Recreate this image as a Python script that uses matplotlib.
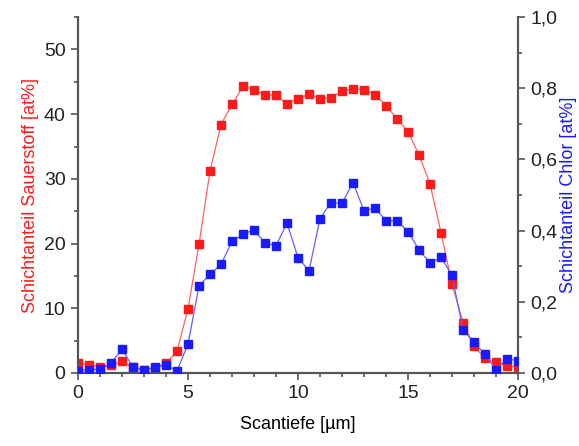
import numpy as np
import matplotlib
matplotlib.use("Agg")
import matplotlib.pyplot as plt
from matplotlib.ticker import MultipleLocator, FuncFormatter

plt.rcParams['font.family'] = ['Liberation Sans', 'DejaVu Sans']

# Scan depth in µm, 0.5 µm steps
depth = np.arange(0, 20.01, 0.5)

sauerstoff = [1.5, 1.3, 1.0, 1.2, 1.8, 0.9, 0.5, 0.8, 1.5, 3.4,
              9.9, 19.9, 31.2, 38.4, 41.5, 44.3, 43.8, 43.0, 42.9, 41.6,
              42.4, 43.1, 42.4, 42.5, 43.6, 43.9, 43.8, 43.0, 41.3, 39.3,
              37.3, 33.7, 29.2, 21.7, 13.7, 7.8, 4.1, 2.3, 1.7, 1.1, 1.0]

chlor = [0.006, 0.009, 0.011, 0.028, 0.067, 0.016, 0.007, 0.016, 0.022, 0.006,
         0.081, 0.245, 0.277, 0.305, 0.370, 0.390, 0.402, 0.365, 0.358, 0.421,
         0.324, 0.287, 0.434, 0.479, 0.477, 0.535, 0.456, 0.463, 0.428, 0.428,
         0.397, 0.346, 0.309, 0.325, 0.274, 0.121, 0.086, 0.053, 0.009, 0.039, 0.035]

red = '#ff1a1a'
blue = '#1a1aff'
axcol = '#555555'

fig = plt.figure(figsize=(5.79, 4.46), dpi=100)
ax = fig.add_axes([0.1347, 0.1637, 0.76, 0.798])
ax2 = ax.twinx()

# thin light connecting lines, solid square markers
ax.plot(depth, sauerstoff, color='#ff6060', linewidth=0.9, zorder=2)
ax.plot(depth, sauerstoff, linestyle='none', marker='s', markersize=5.5,
        color=red, zorder=3)
ax2.plot(depth, chlor, color='#6060ff', linewidth=0.9, zorder=2)
ax2.plot(depth, chlor, linestyle='none', marker='s', markersize=5.5,
         color=blue, zorder=3)

ax.set_xlim(0, 20)
ax.set_ylim(0, 55)
ax2.set_ylim(0, 1.0)

ax.xaxis.set_major_locator(MultipleLocator(5))
ax.xaxis.set_minor_locator(MultipleLocator(1))
ax.yaxis.set_major_locator(MultipleLocator(10))
ax.yaxis.set_minor_locator(MultipleLocator(5))
ax2.yaxis.set_major_locator(MultipleLocator(0.2))
ax2.yaxis.set_minor_locator(MultipleLocator(0.1))
ax2.yaxis.set_major_formatter(FuncFormatter(lambda v, p: f"{v:.1f}".replace('.', ',')))

for a in (ax, ax2):
    a.spines['top'].set_visible(False)
    for s in a.spines.values():
        s.set_color(axcol)
        s.set_linewidth(1.5)
    a.tick_params(which='major', length=5, width=1.2, color=axcol, labelsize=14,
                  direction='out', labelcolor='#222222', pad=4)
    a.tick_params(which='minor', length=3, width=1.2, color=axcol, direction='out')

ax.set_xlabel("Scantiefe [µm]", fontsize=13, labelpad=10)
ax.set_ylabel("Schichtanteil Sauerstoff [at%]", fontsize=13, color=red, labelpad=3)
ax2.set_ylabel("Schichtanteil Chlor [at%]", fontsize=13, color=blue, labelpad=2)

fig.savefig('out.png', dpi=100)
